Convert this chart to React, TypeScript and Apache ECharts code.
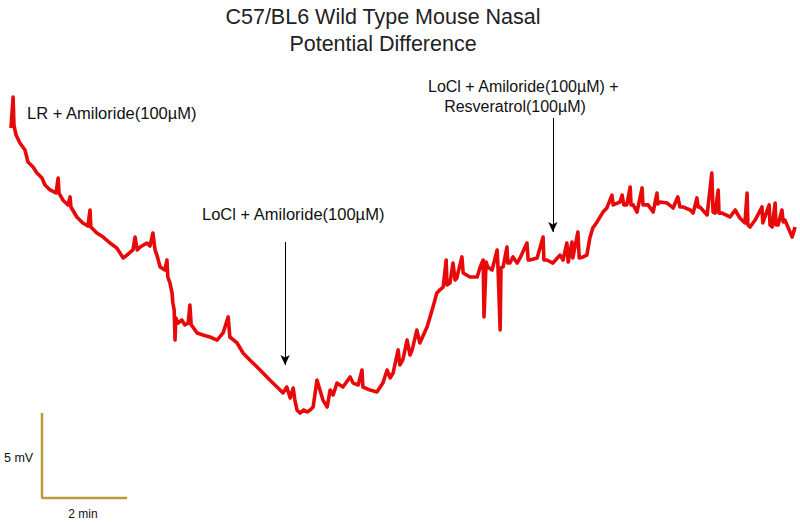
import React, { useEffect, useRef } from "react";
import * as echarts from "echarts";

// Time in minutes (0 = start of the 2 min scale bar), nasal PD in mV (relative)
const timeMin = [
  -0.73, -0.68, -0.66, -0.61, -0.52, -0.4, -0.33, -0.21, -0.12, 0, 0.07, 0.19, 0.33, 0.38, 0.4, 0.49, 0.61, 0.66, 0.68, 0.82,
  0.96, 1.08, 1.13, 1.15, 1.29, 1.44, 1.6, 1.76, 1.91, 2.0, 2.14, 2.19, 2.24, 2.31, 2.47, 2.54, 2.61, 2.66, 2.71, 2.78,
  2.89, 2.94, 2.96, 3.01, 3.06, 3.08, 3.11, 3.13, 3.15, 3.2, 3.29, 3.36, 3.44, 3.48, 3.51, 3.55, 3.65, 3.79, 3.95, 4.12,
  4.26, 4.38, 4.42, 4.59, 4.73, 4.89, 5.06, 5.2, 5.36, 5.53, 5.67, 5.76, 5.84, 5.91, 5.95, 6.0, 6.07, 6.16, 6.24, 6.31,
  6.38, 6.47, 6.54, 6.61, 6.71, 6.78, 6.85, 6.94, 7.08, 7.25, 7.32, 7.44, 7.53, 7.55, 7.72, 7.88, 8.02, 8.12, 8.19, 8.26,
  8.38, 8.42, 8.49, 8.59, 8.66, 8.71, 8.82, 8.89, 9.06, 9.2, 9.29, 9.36, 9.44, 9.51, 9.53, 9.6, 9.67, 9.72, 9.76, 9.88,
  9.91, 10.07, 10.24, 10.31, 10.38, 10.4, 10.45, 10.49, 10.59, 10.71, 10.73, 10.78, 10.8, 10.85, 10.94, 10.96, 11.01, 11.08, 11.18, 11.25,
  11.41, 11.44, 11.48, 11.65, 11.79, 11.81, 11.88, 12.02, 12.19, 12.26, 12.35, 12.38, 12.47, 12.49, 12.61, 12.64, 12.73, 12.82, 12.89, 12.96,
  13.06, 13.2, 13.29, 13.41, 13.44, 13.6, 13.65, 13.69, 13.76, 13.84, 13.86, 13.91, 14.0, 14.12, 14.14, 14.26, 14.38, 14.47, 14.49, 14.54,
  14.71, 14.85, 14.96, 15.01, 15.08, 15.25, 15.32, 15.41, 15.44, 15.48, 15.65, 15.76, 15.79, 15.84, 15.91, 15.93, 16.0, 16.19, 16.31, 16.42,
  16.54, 16.59, 16.61, 16.66, 16.78, 16.94, 16.96, 17.11, 17.13, 17.18, 17.25, 17.27, 17.32, 17.41, 17.44, 17.48, 17.55, 17.65, 17.72,
];

const pdMv = [
  21.76, 23.59, 21.94, 21.35, 20.88, 20.47, 19.76, 19.47, 19.12, 18.82, 18.41, 18.12, 17.94, 18.82, 17.94, 17.53, 17.24, 17.71, 17.12, 16.53,
  16.18, 16.0, 16.94, 15.94, 15.59, 15.35, 15.0, 14.71, 14.12, 14.29, 14.59, 15.35, 14.59, 14.76, 15.0, 14.82, 15.59, 14.59, 14.24, 13.59,
  13.41, 14.0, 13.0, 12.65, 12.06, 11.47, 11.06, 9.29, 10.59, 10.29, 10.47, 10.18, 10.29, 11.35, 10.18, 10.06, 9.71, 9.59, 9.47, 9.29,
  9.71, 10.65, 9.47, 9.12, 8.53, 8.12, 7.71, 7.35, 6.94, 6.53, 6.18, 6.53, 5.88, 6.47, 5.76, 5.18, 5.0, 5.18, 5.06, 5.18,
  5.35, 6.94, 6.35, 5.76, 5.35, 6.35, 6.06, 6.76, 6.53, 7.12, 6.76, 6.65, 7.53, 6.53, 6.35, 6.24, 6.76, 7.53, 7.06, 7.35,
  8.71, 7.82, 8.12, 9.29, 8.41, 8.71, 9.88, 9.12, 10.06, 11.24, 12.06, 12.24, 12.41, 14.0, 12.53, 12.65, 13.82, 12.82, 12.94, 14.18,
  13.24, 13.0, 13.0, 13.59, 14.0, 10.65, 13.88, 13.59, 13.41, 14.59, 13.53, 9.88, 13.53, 13.59, 14.76, 13.82, 13.82, 14.18, 13.82, 14.12,
  15.0, 14.0, 14.0, 14.12, 15.35, 14.0, 14.0, 13.82, 14.29, 14.0, 15.0, 13.88, 15.06, 14.12, 15.65, 14.12, 14.18, 14.29, 15.29, 15.88,
  16.24, 16.82, 17.06, 17.82, 17.24, 17.41, 17.82, 17.24, 17.24, 18.29, 17.24, 17.24, 16.82, 18.24, 17.24, 17.24, 16.82, 17.94, 17.29, 17.41,
  17.35, 17.06, 17.71, 17.12, 17.12, 16.94, 16.76, 17.65, 17.12, 17.12, 16.65, 19.12, 16.82, 16.76, 18.12, 16.76, 16.76, 16.53, 16.94, 16.47,
  16.18, 17.94, 16.06, 15.94, 16.35, 17.12, 16.18, 17.24, 16.06, 15.94, 17.35, 16.06, 16.06, 16.94, 16.24, 16.35, 15.94, 15.35, 15.94,
];

// Scale bar: 5 mV vertical, 2 min horizontal
const scaleBarTime = [0, 0, 2];
const scaleBarMv = [5, 0, 0];

// Arrows marking solution changes: time (min), from mV, to mV
const arrowTime = [5.72, 12.02];
const arrowFromMv = [15.06, 22.35];
const arrowToMv = [7.82, 15.65];

const titleLines = ["C57/BL6 Wild Type Mouse Nasal", "Potential Difference"];
const annotations = [
  "LR + Amiloride(100µM)",
  "LoCl + Amiloride(100µM)",
  "LoCl + Amiloride(100µM) +",
  "Resveratrol(100µM)",
];
const scaleLabels = ["5 mV", "2 min"];

const FONT = "Liberation Sans, Arial, Helvetica, sans-serif";

export default function App() {
  const ref = useRef<HTMLDivElement>(null);
  useEffect(() => {
    const chart = echarts.init(ref.current!, null, { renderer: "svg" });
    const trace = timeMin.map((t, i) => [t, pdMv[i]]);
    const bar = scaleBarTime.map((t, i) => [t, scaleBarMv[i]]);
    const arrows = arrowTime.map((t, i) => [
      { coord: [t, arrowFromMv[i]] },
      { coord: [t, arrowToMv[i]] },
    ]);
    const txt = (text: string, x: number, y: number, size: number, align = "left", fill = "#111") => ({
      type: "text",
      x,
      y,
      silent: true,
      style: { text, fill, font: `${size}px ${FONT}`, textAlign: align, textVerticalAlign: "middle" },
    });
    chart.setOption({
      animation: false,
      backgroundColor: "#ffffff",
      grid: { left: 0, right: 0, top: 0, bottom: 0 },
      xAxis: { type: "value", min: -42 / 42.5, max: 758 / 42.5, show: false },
      yAxis: { type: "value", min: -25 / 17, max: 498 / 17, show: false },
      series: [
        {
          type: "line",
          data: trace,
          showSymbol: false,
          symbol: "none",
          lineStyle: { color: "#e80a0a", width: 3.6, join: "round" },
          silent: true,
        },
        {
          type: "line",
          data: bar,
          showSymbol: false,
          symbol: "none",
          lineStyle: { color: "#b89d3e", width: 2.5 },
          silent: true,
          markLine: {
            silent: true,
            symbol: ["none", "arrow"],
            symbolSize: [7, 10],
            label: { show: false },
            lineStyle: { color: "#000", width: 1, type: "solid" },
            data: arrows,
          },
        },
      ],
      graphic: [
        txt(titleLines[0], 383, 17, 21.5, "center", "#222"),
        txt(titleLines[1], 383, 44, 21.5, "center", "#222"),
        txt(annotations[0], 27, 112.5, 16.5),
        txt(annotations[1], 202, 214, 16.5),
        txt(annotations[2], 428, 86, 16),
        txt(annotations[3], 515, 106, 16, "center"),
        txt(scaleLabels[0], 4, 458, 12.5),
        txt(scaleLabels[1], 83, 514, 12, "center"),
      ],
    });
    return () => chart.dispose();
  }, []);
  return (
    <div
      ref={ref}
      style={{ position: "absolute", left: 0, top: 0, width: 800, height: 523, background: "#fff" }}
    />
  );
}
